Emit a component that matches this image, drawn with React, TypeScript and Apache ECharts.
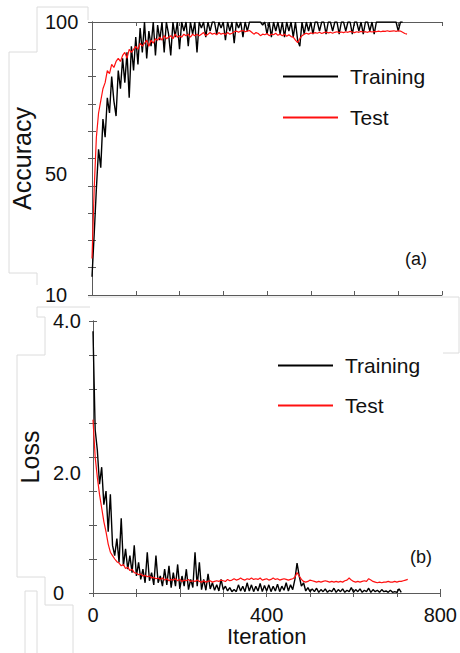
import React, { useEffect, useRef } from "react";
import * as echarts from "echarts";

// Iteration spacing of the sampled values below
const iterStep = 5;

// (a) Accuracy
const trainAccuracy = [
  16, 30, 45, 58, 52, 68, 62, 75, 70, 82, 74, 69, 84, 78, 88, 80, 90, 75, 92, 84,
  95, 86, 98, 90, 100, 88, 97, 92, 100, 89, 99, 94, 100, 90, 100, 96, 89, 100, 95, 100,
  91, 100, 97, 100, 92, 100, 96, 100, 90, 100, 98, 100, 95, 100, 97, 100, 100, 96, 100, 98,
  100, 94, 100, 97, 100, 93, 100, 98, 100, 95, 100, 97, 100, 100, 100, 100, 100, 100, 99, 100,
  96, 100, 95, 100, 97, 100, 96, 100, 95, 100, 97, 100, 95, 100, 94, 92, 100, 96, 100, 97,
  100, 96, 100, 100, 97, 100, 100, 96, 100, 100, 97, 100, 100, 96, 100, 100, 97, 100, 100, 96,
  100, 100, 97, 100, 96, 100, 100, 97, 100, 96, 100, 100, 100, 100, 100, 100, 100, 100, 100, 100,
  97, 100, 100,
];
const testAccuracy = [
  22, 45, 62, 70, 74, 78, 80, 84, 83, 86, 85, 87, 88, 87, 89, 90, 88, 91, 90, 91,
  92, 91, 93, 92, 93, 94, 92, 94, 93, 94.5, 94, 95, 94, 95.5, 94.5, 95, 95.5, 94.5, 96, 95,
  95.5, 95, 96, 95.5, 96, 95, 96, 95.5, 96, 95.5, 96, 96.5, 95.5, 96, 96.5, 96, 96.3, 95.8, 96.5, 96,
  96.3, 95.8, 96.5, 96, 96.3, 96.8, 97, 96.6, 97, 97.2, 96.8, 97, 97.2, 96.6, 96, 96.5, 96.2, 95.5, 96, 95.8,
  96.2, 95.5, 96, 95.8, 96.3, 95.6, 96, 95.5, 96, 95.3, 95.8, 95.2, 95, 94, 93.2, 94.5, 95.5, 96, 96.3, 96,
  96.4, 96.2, 96.5, 96.3, 96.6, 96.2, 96.5, 96.7, 96.4, 96.6, 96.3, 96.6, 96.8, 96.5, 96.7, 96.5, 96.8, 96.6, 96.9, 96.7,
  96.5, 96.8, 96.6, 96.9, 96.7, 96.8, 96.6, 96.9, 96.7, 96.9, 96.8, 97, 96.8, 97, 96.9, 97.1, 96.9, 97, 97.1, 96.9,
  97.1, 97, 96.6, 96.2, 96,
];

// (b) Loss
const trainLoss = [
  3.85, 2.4, 2.1, 1.6, 1.85, 1.3, 1.5, 0.9, 1.45, 0.7, 0.55, 0.8, 0.45, 1.1, 0.4, 0.65, 0.35, 0.55, 0.3, 0.7,
  0.25, 0.45, 0.2, 0.35, 0.15, 0.6, 0.18, 0.3, 0.12, 0.55, 0.15, 0.25, 0.1, 0.35, 0.12, 0.4, 0.08, 0.3, 0.1, 0.42,
  0.06, 0.25, 0.1, 0.35, 0.05, 0.2, 0.08, 0.6, 0.1, 0.45, 0.05, 0.2, 0.04, 0.28, 0.06, 0.15, 0.04, 0.12, 0.03, 0.2,
  0.05, 0.1, 0.03, 0.08, 0.02, 0.05, 0.02, 0.12, 0.03, 0.1, 0.02, 0.15, 0.03, 0.12, 0.02, 0.1, 0.03, 0.14, 0.02, 0.11,
  0.03, 0.12, 0.02, 0.1, 0.03, 0.13, 0.02, 0.1, 0.04, 0.15, 0.03, 0.12, 0.05, 0.2, 0.44, 0.25, 0.1, 0.15, 0.03, 0.08,
  0.02, 0.06, 0.02, 0.07, 0.01, 0.05, 0.02, 0.06, 0.01, 0.04, 0.02, 0.07, 0.01, 0.05, 0.02, 0.06, 0.01, 0.04, 0.02, 0.08,
  0.01, 0.05, 0.02, 0.06, 0.01, 0.04, 0.02, 0.07, 0.01, 0.05, 0.02, 0.04, 0.01, 0.05, 0.02, 0.03, 0.01, 0.04, 0.01, 0.02,
  0.01, 0.06, 0.01,
];
const testLoss = [
  2.55, 2.0, 1.7, 1.45, 1.25, 1.05, 0.9, 0.72, 0.6, 0.55, 0.5, 0.46, 0.44, 0.4, 0.42, 0.36, 0.38, 0.33, 0.35, 0.3,
  0.29, 0.27, 0.28, 0.25, 0.26, 0.24, 0.25, 0.22, 0.23, 0.21, 0.22, 0.2, 0.22, 0.19, 0.21, 0.18, 0.2, 0.19, 0.21, 0.18,
  0.2, 0.17, 0.19, 0.18, 0.2, 0.17, 0.18, 0.17, 0.19, 0.17, 0.16, 0.18, 0.16, 0.17, 0.18, 0.16, 0.17, 0.18, 0.17, 0.19,
  0.18, 0.17, 0.2, 0.18, 0.19, 0.21, 0.19, 0.2, 0.22, 0.2, 0.19, 0.21, 0.2, 0.22, 0.2, 0.21, 0.2, 0.22, 0.19, 0.2,
  0.21, 0.19, 0.2, 0.22, 0.2, 0.21, 0.19, 0.2, 0.21, 0.2, 0.19, 0.2, 0.21, 0.23, 0.3, 0.25, 0.2, 0.17, 0.16, 0.17,
  0.19, 0.18, 0.17, 0.16, 0.17, 0.16, 0.17, 0.18, 0.17, 0.16, 0.17, 0.16, 0.17, 0.16, 0.17, 0.16, 0.18, 0.19, 0.22, 0.19,
  0.17, 0.16, 0.17, 0.16, 0.17, 0.18, 0.17, 0.21, 0.19, 0.17, 0.16, 0.15, 0.16, 0.15, 0.16, 0.16, 0.17, 0.16, 0.16, 0.17,
  0.16, 0.17, 0.17, 0.18, 0.19, 0.2,
];

// Tick labels
const accuracyLabels = [10, 50, 100];
const lossLabels = [0, 2, 4];
const iterationLabels = [0, 400, 800];
const seriesNames = ["Training", "Test"];

const toPairs = (arr: number[]) => arr.map((v, i) => [i * iterStep, v]);

const FONT = "'Liberation Sans', Arial, sans-serif";
const TXT = "#111";
const FRAME = "#5a5a5a";
const ART = "#dcdcdc";
const RED = "#ff1010";

export default function App() {
  const ref = useRef<HTMLDivElement>(null);
  useEffect(() => {
    if (!ref.current) return;
    const chart = echarts.init(ref.current, null, { renderer: "svg" });

    const axisLine = { show: true, lineStyle: { color: FRAME, width: 1 } };
    const axisTick = { show: true, inside: true, length: 4, lineStyle: { color: FRAME, width: 1 } };

    const xBase = (gridIndex: number, position: string, labels: boolean) => ({
      type: "value",
      gridIndex,
      position,
      min: 0,
      max: 800,
      interval: 100,
      axisLine,
      axisTick,
      splitLine: { show: false },
      axisLabel: labels
        ? {
            show: true,
            customValues: iterationLabels,
            margin: 12,
            color: TXT,
            fontFamily: FONT,
            fontSize: 20,
          }
        : { show: false },
    });

    const option: any = {
      animation: false,
      backgroundColor: "#fff",
      grid: [
        { left: 92, top: 22, width: 350, height: 273, show: false },
        { left: 93, top: 321, width: 351, height: 272, show: false },
      ],
      xAxis: [
        xBase(0, "bottom", false),
        xBase(0, "top", false),
        {
          ...xBase(1, "bottom", true),
          name: "Iteration",
          nameLocation: "middle",
          nameGap: 32,
          nameTextStyle: { color: TXT, fontFamily: FONT, fontSize: 22 },
        },
        xBase(1, "top", false),
      ],
      yAxis: [
        {
          type: "value",
          gridIndex: 0,
          position: "left",
          min: 10,
          max: 100,
          interval: 9,
          axisLine,
          axisTick,
          splitLine: { show: false },
          axisLabel: {
            show: true,
            customValues: accuracyLabels,
            align: "left",
            margin: 47,
            color: TXT,
            fontFamily: FONT,
            fontSize: 20,
          },
          name: "Accuracy",
          nameLocation: "middle",
          nameRotate: 90,
          nameGap: 54,
          nameTextStyle: { color: TXT, fontFamily: FONT, fontSize: 25 },
        },
        {
          type: "value",
          gridIndex: 0,
          position: "right",
          min: 10,
          max: 100,
          interval: 9,
          axisLine,
          axisTick,
          splitLine: { show: false },
          axisLabel: { show: false },
        },
        {
          type: "value",
          gridIndex: 1,
          position: "left",
          min: 0,
          max: 4,
          interval: 0.5,
          axisLine,
          axisTick,
          splitLine: { show: false },
          axisLabel: {
            show: true,
            customValues: lossLabels,
            align: "left",
            margin: 40,
            color: TXT,
            fontFamily: FONT,
            fontSize: 20,
            formatter: (v: number) => (v === 0 ? "0" : v === 2 ? "{low|2.0}" : v.toFixed(1)),
            rich: {
              low: { padding: [32, 0, 0, 0], color: TXT, fontFamily: FONT, fontSize: 20 },
            },
          },
          name: "Loss",
          nameLocation: "middle",
          nameRotate: 90,
          nameGap: 47,
          nameTextStyle: { color: TXT, fontFamily: FONT, fontSize: 25 },
        },
        {
          type: "value",
          gridIndex: 1,
          position: "right",
          min: 0,
          max: 4,
          interval: 0.5,
          axisLine,
          axisTick,
          splitLine: { show: false },
          axisLabel: { show: false },
        },
      ],
      legend: [
        {
          left: 278,
          top: 61,
          orient: "vertical",
          itemGap: 20,
          itemWidth: 55,
          itemHeight: 2,
          icon: "rect",
          selectedMode: false,
          data: seriesNames,
          textStyle: { color: TXT, fontFamily: FONT, fontSize: 21, padding: [0, 0, 0, 7] },
        },
        {
          left: 273,
          top: 350,
          orient: "vertical",
          itemGap: 19,
          itemWidth: 55,
          itemHeight: 2,
          icon: "rect",
          selectedMode: false,
          data: seriesNames,
          textStyle: { color: TXT, fontFamily: FONT, fontSize: 21, padding: [0, 0, 0, 7] },
        },
      ],
      series: [
        {
          name: "Training",
          type: "line",
          xAxisIndex: 0,
          yAxisIndex: 0,
          data: toPairs(trainAccuracy),
          showSymbol: false,
          color: "#000",
          lineStyle: { color: "#000", width: 1.4 },
        },
        {
          name: "Test",
          type: "line",
          xAxisIndex: 0,
          yAxisIndex: 0,
          data: toPairs(testAccuracy),
          showSymbol: false,
          color: RED,
          lineStyle: { color: RED, width: 1.2 },
        },
        {
          name: "Training",
          type: "line",
          xAxisIndex: 2,
          yAxisIndex: 2,
          data: toPairs(trainLoss),
          showSymbol: false,
          color: "#000",
          lineStyle: { color: "#000", width: 1.4 },
        },
        {
          name: "Test",
          type: "line",
          xAxisIndex: 2,
          yAxisIndex: 2,
          data: toPairs(testLoss),
          showSymbol: false,
          color: RED,
          lineStyle: { color: RED, width: 1.2 },
        },
      ],
      graphic: [
        {
          type: "text",
          left: 405,
          top: 250,
          style: { text: "(a)", fill: TXT, font: `18px ${FONT}` },
        },
        {
          type: "text",
          left: 410,
          top: 548,
          style: { text: "(b)", fill: TXT, font: `18px ${FONT}` },
        },
        {
          type: "polyline",
          silent: true,
          shape: { points: [[88, 20], [88, 7], [37, 7], [37, 52], [9, 52], [9, 273], [37, 273], [37, 285]] },
          style: { stroke: ART, lineWidth: 1, fill: null },
        },
        {
          type: "polyline",
          silent: true,
          shape: {
            points: [[90, 307], [37, 307], [37, 317], [45, 317], [45, 355], [17, 355], [17, 577], [45, 577], [45, 605], [73, 605], [73, 653]],
          },
          style: { stroke: ART, lineWidth: 1, fill: null },
        },
        {
          type: "polyline",
          silent: true,
          shape: { points: [[25, 653], [25, 591], [37, 591], [37, 653]] },
          style: { stroke: ART, lineWidth: 1, fill: null },
        },
        {
          type: "polyline",
          silent: true,
          shape: { points: [[88, 297], [459, 297], [459, 353], [443, 353]] },
          style: { stroke: ART, lineWidth: 1, fill: null },
        },
      ],
    };

    chart.setOption(option);
    return () => chart.dispose();
  }, []);

  return (
    <div
      ref={ref}
      style={{ position: "fixed", left: 0, top: 0, width: 460, height: 653, background: "#fff" }}
    />
  );
}
